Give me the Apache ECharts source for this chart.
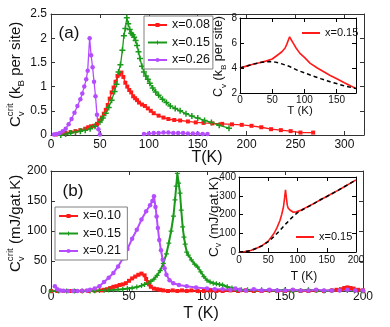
<!DOCTYPE html>
<html>
<head>
<meta charset="utf-8">
<script src="https://cdn.jsdelivr.net/npm/echarts@6/dist/echarts.min.js"></script>
<style>
html,body{margin:0;padding:0;background:#fff;}
#chart{width:390px;height:327px;}
</style>
</head>
<body>
<div id="chart"></div>
<script>
// (a) critical specific heat, k_B per site
var tRedA = [5,10,15,20,25,30,35,38,41,44,47,50,52,54,56,58,60,62,64,66,68,70,72,74,76,78,80,82,84,86,88,90,93,96,99,102,105,110,115,120,126,132,140,148,156,165,175,185,195,205,215,225,235,245,255,268];
var cRedA = [0.01,0.02,0.04,0.06,0.08,0.1,0.13,0.16,0.18,0.19,0.23,0.3,0.36,0.44,0.52,0.62,0.75,0.88,0.98,1.1,1.22,1.25,1.29,1.2,1.08,1.0,0.93,0.88,0.8,0.76,0.72,0.67,0.63,0.6,0.55,0.5,0.45,0.4,0.36,0.33,0.31,0.3,0.28,0.26,0.25,0.24,0.23,0.22,0.21,0.19,0.16,0.12,0.1,0.08,0.05,0.05];
var tGrnA = [10,15,20,25,30,35,40,45,50,53,56,59,62,65,67,69,71,73,74.5,76,77.5,79,80.5,82,83.5,85,86.5,88,89.5,91,93,95,97,99,101,104,107,110,114,118,122,127,132,138,144,150,157,164,172,182];
var cGrnA = [0,0.02,0.04,0.06,0.08,0.1,0.13,0.18,0.27,0.35,0.45,0.57,0.72,0.9,1.05,1.3,1.45,1.75,2.05,2.2,2.42,2.3,2.18,2.1,2.07,2.02,1.95,1.85,1.72,1.58,1.42,1.3,1.22,1.15,1.07,0.97,0.89,0.82,0.74,0.67,0.6,0.55,0.5,0.44,0.39,0.35,0.3,0.26,0.2,0.14];
var tPurA = [3,6,9,12,15,18,21,24,27,30,32,34,36,37.5,39.5,41,42.5,44,45.5,47,48.5,50,70,95,100,105,110,115,120,125,130,135,140,145,150,155,160];
var cPurA = [0.01,0.02,0.04,0.08,0.13,0.22,0.33,0.46,0.6,0.74,0.86,1.0,1.15,1.33,2.0,1.65,1.4,1.1,0.8,0.42,0.12,0.01,null,0.02,0.03,0.04,0.04,0.05,0.05,0.04,0.04,0.04,0.03,0.03,0.03,0.02,0.02];

// (a) inset: total C_v for x=0.15 and background
var tInA = [0,10,20,30,40,50,60,65,70,73,75.5,77,79,82.8,87,93,100,109,120,130,140,151,162,172,180];
var cInA = [4.0,4.15,4.3,4.42,4.55,4.72,5.1,5.3,5.6,5.95,6.3,6.5,6.3,5.97,5.6,5.17,4.85,4.37,4.0,3.7,3.4,3.12,2.82,2.56,2.37];
var tBgA = [0,10,20,30,40,46,55,65,77,90,109,125,140,160,180];
var cBgA = [4.0,4.15,4.3,4.42,4.5,4.52,4.47,4.33,4.12,3.8,3.44,3.15,2.9,2.6,2.35];

// (b) critical specific heat, mJ/gat.K
var tRedB = [0,4,8,12,16,20,24,28,32,34,36,38,40,42,44,46,48,50,52,54,56,58,60,61,62,63,64,66,68,70,72,75,78,81,84,87,90,94,98,102,106,110,115,120,125,130,135,140,145,150,155,160,165,170,175,180,183,186,188,190,192,194,197,200];
var cRedB = [0,0,0,0,0,0,0,0.5,1,2,3,5,7,8,10,11,13,17,21,24,27,29,26,20,15,11,7,4,3,2,1,0,1,0,1,0,1,0,0,1,0,0,1,0,1,0,0,1,0,0,1,0,0,1,0,1,2,3,5,6,5,4,2,1];
var tGrnB = [0,5,10,15,20,25,28,31,34,37,40,43,46,49,52,55,58,60,62,64,66,68,70,72,74,75.5,77,78.5,79.5,80.3,81,81.8,82.7,83.5,84.4,85.2,86,87,88,90,92,94,96,98,100,102,104,106,108,110,113,116,119,122,126,130,135,140,145,150,155,160,165,170,175,180,185,190,195,200];
var cGrnB = [0,0,0,0,0,0,0.5,1,1,1.5,2,2.5,3,4,5,6.5,9,11,13,16,20,26,34,46,62,80,100,125,152,175,196,180,163,135,107,90,78,65,60,52,45,40,32,24,18,15,13,12,11,10,7,5,3,2,2,1,2,1,1,2,0,1,2,1,0,1,2,1,1,0];
var tPurB = [2.5,4,6,8,11,14,17,20,23,25,28,31,34,37,40,43,46,49,52,55,58,61,63.5,65,66,67,67.7,68.5,69.4,70.5,71.6,72.8,74,76,78.4,82,87,93,100,105,110,115,118,121,125,130,135,140,145,150,155,160,165,170,175,180,185,190,195,200];
var cPurB = [8,3,1,0.5,0,0,0,0.5,1,2,4,8,15,22,30,41,54,70,87,102,119,133,143,150,158,140,124,105,85,68,52,38,27,18,13,10,8,6,4,3,3,2,4,2,1,3,1,2,1,1,2,1,1,2,1,1,1,2,1,1];

// (b) inset
var tInB = [0,10,20,30,40,50,60,65,70,73,76,78,79.5,81,82.5,84,87,93,98,105,110,120,130,140,150,160,170,180,190,200];
var cInB = [0,2,8,20,35,58,100,130,168,200,240,290,332,290,250,235,224,212,214,222,230,245,262,280,296,313,330,348,366,385];
var tBgB = [0,10,20,30,40,50,60,70,80,90,100,110,120,130,140,150,160,170,180,190,200];
var cBgB = [0,2,8,20,34,55,83,115,150,182,210,228,245,262,280,296,313,330,348,366,385];

var FONT = '"Liberation Sans", Arial, sans-serif';
var RED = '#ff1a1a', GREEN = '#1a9a1a', PURPLE = '#b54dff';
var PLUS = 'path://M-1,-4H1V-1H4V1H1V4H-1V1H-4V-1H-1Z';

function zip(t, c) {
	return t.map(function (v, i) { return [v, c[i]]; });
}

// bottom/top or left/right pair of axes for one grid (box with inward ticks)
function axisPair(grid, dim, min, max, step, color, fs, margin, z, hideMax) {
	var pos = dim == 'x' ? ['bottom', 'top'] : ['left', 'right'];
	var out = [];
	for (var i = 0; i < 2; i++) {
		out.push({
			gridIndex: grid, type: 'value', position: pos[i], min: min, max: max, interval: step, z: z,
			axisLine: {show: true, onZero: false, lineStyle: {color: color, width: 1}},
			axisTick: {show: true, inside: true, length: 4, lineStyle: {color: color}},
			splitLine: {show: false},
			axisLabel: {show: i == 0, margin: margin, fontSize: fs, fontFamily: FONT, color: '#111', showMaxLabel: !hideMax}
		});
	}
	return out;
}

// grid g uses axes 2g (bottom / left)
function ser(name, t, c, color, sym, size, g, width, z, dash) {
	return {
		type: 'line', name: name, xAxisIndex: g * 2, yAxisIndex: g * 2, data: zip(t, c),
		symbol: sym, symbolSize: size, showAllSymbol: true, z: z,
		lineStyle: {color: color, width: width, type: dash ? [4, 3] : 'solid'},
		itemStyle: {color: color}, animation: false
	};
}

// rotated label with sub/superscripts, measured with canvas
function mathLabel(x, y, size, parts) {
	var ctx = document.createElement('canvas').getContext('2d');
	var cx = 0, lastStart = 0, kids = [];
	parts.forEach(function (p) {
		var fs = size * p[1];
		ctx.font = fs + 'px "Liberation Sans"';
		var w = ctx.measureText(p[0]).width;
		var start = p[3] ? lastStart : cx;
		kids.push({type: 'text', x: start, y: p[2] * size,
			style: {text: p[0], fontSize: fs, fontFamily: FONT, fill: '#111', align: 'left', verticalAlign: 'middle', textAlign: 'left', textVerticalAlign: 'middle'}});
		if (!p[3]) lastStart = start;
		cx = Math.max(cx, start + w);
	});
	return {type: 'group', x: x, y: y, rotation: Math.PI / 2, z: 10, children: kids};
}

function txt(s, x, y, fs) {
	return {type: 'text', x: x, y: y, z: 10,
		style: {text: s, fontSize: fs, fontFamily: FONT, fill: '#111', align: 'center', verticalAlign: 'middle', textAlign: 'center', textVerticalAlign: 'middle'}};
}

var legendBox = {
	orient: 'vertical', itemWidth: 19, itemHeight: 5, itemGap: 4.5, padding: [2.5, 3, 2.5, 3],
	backgroundColor: '#fff', borderColor: '#808080', borderWidth: 1, selectedMode: false,
	textStyle: {fontSize: 12.5, fontFamily: FONT, color: '#111', lineHeight: 12}
};
var legendIn = {
	icon: 'rect', itemWidth: 18, itemHeight: 2, padding: 0, selectedMode: false, z: 8,
	textStyle: {fontSize: 11, fontFamily: FONT, color: '#111', lineHeight: 12}
};

var xAxes = [].concat(
	axisPair(0, 'x', 0, 320, 50, '#333', 12, 4, 0, true),
	axisPair(1, 'x', 0, 180, 50, '#000', 10, 2, 6, true),
	axisPair(2, 'x', 0, 200, 50, '#333', 12, 0, 0, false),
	axisPair(3, 'x', 0, 200, 50, '#000', 10, 3, 6, false)
);
var yAxes = [].concat(
	axisPair(0, 'y', 0, 2.5, 0.5, '#333', 12, 4, 0, false),
	axisPair(1, 'y', 2, 8, 2, '#000', 10, 3, 6, false),
	axisPair(2, 'y', 0, 200, 50, '#333', 12, 4, 0, false),
	axisPair(3, 'y', 0, 400, 100, '#000', 10, 3, 6, false)
);

var option = {
	animation: false,
	backgroundColor: '#fff',
	textStyle: {fontFamily: FONT},
	grid: [
		{left: 51, top: 14, width: 313, height: 121},
		{left: 240, top: 18, width: 116, height: 75, show: true, backgroundColor: '#fff', borderWidth: 0, z: 5},
		{left: 51, top: 171, width: 312, height: 120},
		{left: 239, top: 177, width: 117, height: 75, show: true, backgroundColor: '#fff', borderWidth: 0, z: 5}
	],
	xAxis: xAxes,
	yAxis: yAxes,
	legend: [
		Object.assign({}, legendBox, {data: ['x=0.08', 'x=0.15', 'x=0.26'], left: 144, top: 16}),
		Object.assign({}, legendBox, {data: ['x=0.10', 'x=0.15 ', 'x=0.21'], left: 55, top: 207}),
		Object.assign({}, legendIn, {data: ['x=0.15  '], left: 302, top: 27}),
		Object.assign({}, legendIn, {data: ['x=0.15   '], left: 296, top: 231})
	],
	graphic: [
		txt('(a)', 69, 33, 17),
		txt('(b)', 73, 191, 17),
		txt('T(K)', 207, 158, 16),
		txt('T (K)', 201, 314, 16),
		txt('T (K)', 300, 111, 11.5),
		txt('T (K)', 304, 277, 12),
		mathLabel(16, 127, 15, [['C', 1, 0], ['crit', 0.65, -0.35], ['v', 0.65, 0.35, true], [' (k', 1, 0], ['B', 0.65, 0.35], [' per site)', 1, 0]]),
		mathLabel(16, 272, 15, [['C', 1, 0], ['crit', 0.65, -0.35], ['v', 0.65, 0.35, true], [' (mJ/gat.K)', 1, 0]]),
		mathLabel(219, 97, 12.5, [['C', 1, 0], ['v', 0.65, 0.35], [' (k', 1, 0], ['B', 0.65, 0.35], [' per site)', 1, 0]]),
		mathLabel(214, 257, 13.5, [['C', 1, 0], ['v', 0.65, 0.35], [' (mJ/gat.K)', 1, 0]])
	],
	series: [
		ser('x=0.08', tRedA, cRedA, RED, 'rect', 4, 0, 1.3, 2),
		ser('x=0.15', tGrnA, cGrnA, GREEN, PLUS, 6, 0, 1.3, 2),
		ser('x=0.26', tPurA, cPurA, PURPLE, 'circle', 4.5, 0, 1.3, 2),
		ser('x=0.15  ', tInA, cInA, RED, 'none', 0, 1, 1.6, 7),
		ser('bgA', tBgA, cBgA, '#000', 'none', 0, 1, 1.5, 7, true),
		ser('x=0.10', tRedB, cRedB, RED, 'rect', 4, 2, 2, 2),
		ser('x=0.15 ', tGrnB, cGrnB, GREEN, PLUS, 5, 2, 2, 2),
		ser('x=0.21', tPurB, cPurB, PURPLE, 'circle', 4.5, 2, 2, 2),
		ser('x=0.15   ', tInB, cInB, RED, 'none', 0, 3, 1.6, 7),
		ser('bgB', tBgB, cBgB, '#000', 'none', 0, 3, 1.5, 7, true)
	]
};

var myChart = echarts.init(document.getElementById('chart'), null, {renderer: 'canvas'});
myChart.setOption(option);
</script>
</body>
</html>
